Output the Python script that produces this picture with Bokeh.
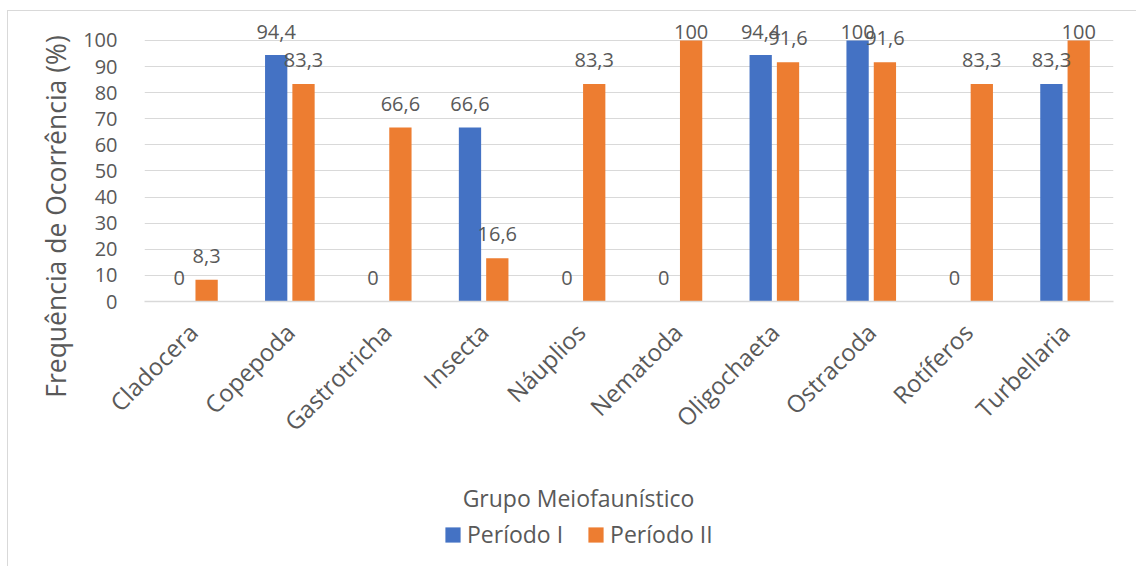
import math
from bokeh.plotting import figure
from bokeh.layouts import column, row
from bokeh.models import (ColumnDataSource, FactorRange, Range1d, FixedTicker,
                          LabelSet, Label, Legend, LegendItem)
from bokeh.core.properties import value
from bokeh.transform import dodge
from bokeh.embed import file_html
from bokeh.resources import INLINE

# Meiofauna groups and occurrence frequency (%) for each sampling period
groups = ["Cladocera", "Copepoda", "Gastrotricha", "Insecta", "Náuplios",
          "Nematoda", "Oligochaeta", "Ostracoda", "Rotíferos", "Turbellaria"]
periodo_1 = [0, 94.4, 0, 66.6, 0, 0, 94.4, 100, 0, 83.3]
periodo_2 = [8.3, 83.3, 66.6, 16.6, 83.3, 100, 91.6, 91.6, 83.3, 100]
series_names = ["Período I", "Período II"]
y_ticks = [0, 10, 20, 30, 40, 50, 60, 70, 80, 90, 100]

BLUE = "#4472C4"
ORANGE = "#ED7D31"
TEXT = "#595959"
GRID = "#D9D9D9"
FONT = "Open Sans"

PX_PER_UNIT = 2.61      # vertical pixels per percentage point in the frame
LABEL_GAP = 17          # value label baseline distance above the bar top
LABEL_CEIL = 262.5      # highest baseline allowed, measured from the zero line

TOTAL_W, TOTAL_H = 1136, 566
TITLE_W = 80            # strip holding the vertical axis title
CHART_H = 470           # height of the bar chart row
FOOT_H = TOTAL_H - CHART_H


def pt_br(v):
    """Format a number with a comma as decimal separator."""
    if float(v).is_integer():
        return str(int(v))
    return f"{v:.1f}".replace(".", ",")


def label_offset(v):
    """Float the label above the bar, but keep it inside the plot area."""
    return min(LABEL_GAP, LABEL_CEIL - v * PX_PER_UNIT)


def frame_lines(left=True, top=True, top_y=10, left_x=7):
    """Light grey chart-area border drawn behind a transparent canvas."""
    parts = []
    if left:
        parts.append(f"linear-gradient({GRID},{GRID}) {left_x}px {top_y if top else 0}px / 1px 600px no-repeat")
    if top:
        parts.append(f"linear-gradient({GRID},{GRID}) {left_x if left else 0}px {top_y}px / 1200px 1px no-repeat")
    return {"background": ", ".join(parts)}


def blank(width, height):
    f = figure(width=width, height=height, x_range=Range1d(0, width),
               y_range=Range1d(0, height), output_backend="svg",
               toolbar_location=None, min_border=0, outline_line_color=None,
               border_fill_color=None, background_fill_color=None,
               frame_align=False)
    f.axis.visible = False
    f.grid.visible = False
    return f


source = ColumnDataSource(dict(
    group=groups,
    p1=periodo_1,
    p2=periodo_2,
    p1_txt=[pt_br(v) for v in periodo_1],
    p2_txt=[pt_br(v) for v in periodo_2],
    p1_off=[label_offset(v) for v in periodo_1],
    p2_off=[label_offset(v) for v in periodo_2],
))

# ---- bar chart -------------------------------------------------------------
p = figure(
    width=TOTAL_W - TITLE_W, height=CHART_H,
    x_range=FactorRange(*groups, range_padding=0),
    y_range=Range1d(0, 108),
    output_backend="svg", toolbar_location=None,
    min_border_left=144 - TITLE_W, min_border_right=23,
    min_border_top=19, min_border_bottom=CHART_H - 301,
    outline_line_color=None,
    border_fill_color=None,
    frame_align=False,
)
p.styles = frame_lines(left=False, top=True)

OFF = 0.141
W = 0.23
r1 = p.vbar(x=dodge("group", -OFF, range=p.x_range), top="p1", width=W,
            source=source, fill_color=BLUE, line_color=None)
r2 = p.vbar(x=dodge("group", OFF, range=p.x_range), top="p2", width=W,
            source=source, fill_color=ORANGE, line_color=None)

# value labels above each bar
for col, txt, offcol, off in (("p1", "p1_txt", "p1_off", -OFF),
                              ("p2", "p2_txt", "p2_off", OFF)):
    p.add_layout(LabelSet(
        x=dodge("group", off, range=p.x_range), y=col, text=txt,
        y_offset=offcol, source=source,
        text_align="center", text_baseline="alphabetic",
        text_font=value(FONT), text_font_size="20px", text_color=TEXT,
    ))

p.yaxis.ticker = FixedTicker(ticks=y_ticks)
p.yaxis.axis_line_color = None
p.yaxis.major_tick_line_color = None
p.yaxis.minor_tick_line_color = None
p.yaxis.major_label_standoff = 21
p.yaxis.major_label_text_font = FONT
p.yaxis.major_label_text_font_size = "20px"
p.yaxis.major_label_text_color = TEXT

p.xaxis.axis_line_color = GRID
p.xaxis.axis_line_width = 1.5
p.xaxis.major_tick_line_color = None
p.xaxis.minor_tick_line_color = None
p.xaxis.major_label_orientation = math.pi / 4
p.xaxis.major_label_standoff = 20
p.xaxis.major_label_text_font = FONT
p.xaxis.major_label_text_font_size = "24px"
p.xaxis.major_label_text_color = TEXT

p.xgrid.grid_line_color = None
p.ygrid.grid_line_color = GRID
p.ygrid.grid_line_width = 1

# ---- vertical axis title -------------------------------------------------
ytitle = blank(TITLE_W, CHART_H)
ytitle.styles = frame_lines(left=True, top=True)
ytitle.add_layout(Label(x=55, y=CHART_H - 216, text="Frequência de Ocorrência (%)",
                        angle=math.pi / 2, text_align="center", text_baseline="middle",
                        text_font=FONT, text_font_size="26.5px", text_color=TEXT))

# ---- horizontal axis title and legend --------------------------------------
foot = blank(TOTAL_W, FOOT_H)
foot.styles = frame_lines(left=True, top=False)
foot.add_layout(Label(x=578, y=FOOT_H - (497 - CHART_H), text="Grupo Meiofaunístico",
                      text_align="center", text_baseline="middle",
                      text_font=FONT, text_font_size="23px", text_color=TEXT))

# legend swatches: renderers holding no drawable point, only the series colours
nan = float("nan")
swatch = ColumnDataSource(dict(x=[nan], top=[nan]))
k1 = foot.vbar(x="x", top="top", width=1, source=swatch, fill_color=BLUE, line_color=None)
k2 = foot.vbar(x="x", top="top", width=1, source=swatch, fill_color=ORANGE, line_color=None)
legend = Legend(
    items=[LegendItem(label=series_names[0], renderers=[k1]),
           LegendItem(label=series_names[1], renderers=[k2])],
    orientation="horizontal", location=(443, 16),
    glyph_width=19, glyph_height=19, label_standoff=5, spacing=23,
    padding=0, margin=0, border_line_color=None, background_fill_alpha=0,
    label_text_font=FONT, label_text_font_size="23px", label_text_color=TEXT,
)
foot.add_layout(legend)

layout = column(row(ytitle, p, spacing=0), foot, spacing=0)
open("out.html", "w").write(file_html(layout, INLINE))
